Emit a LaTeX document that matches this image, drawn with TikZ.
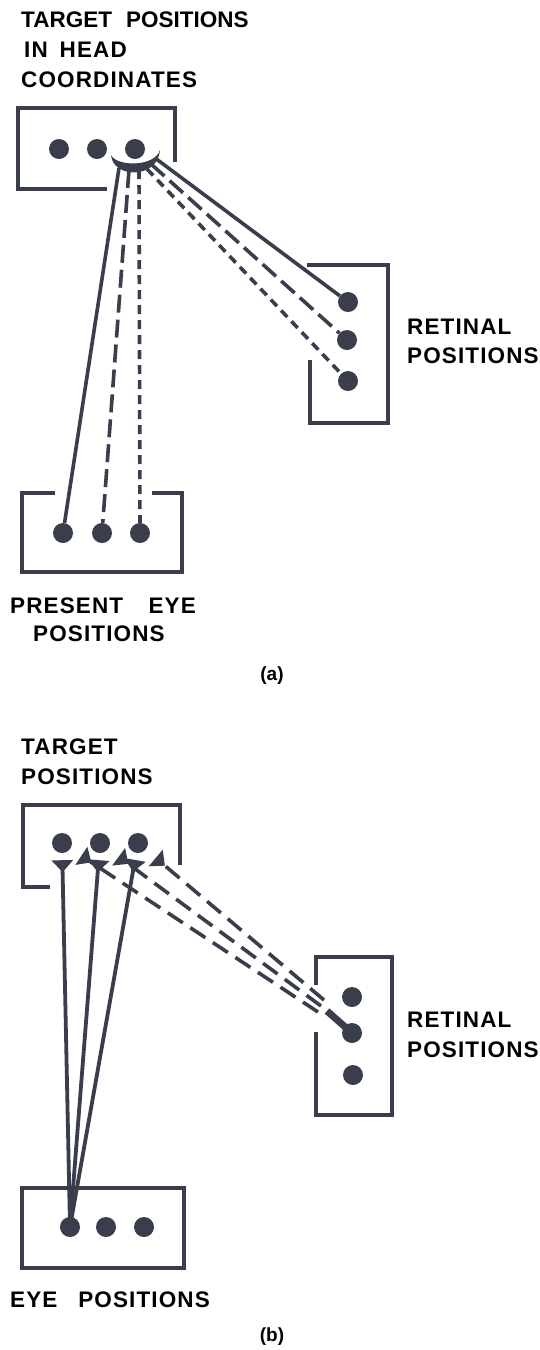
\documentclass[tikz,border=0pt]{standalone}
\usepackage{fontspec}
\setmainfont{Liberation Sans}
\newfontfamily\lblfont{Liberation Sans}[LetterSpace=5]
\newfontfamily\lblplain{Liberation Sans}
\usetikzlibrary{arrows.meta,calc}
\definecolor{ink}{RGB}{58,62,76}
\begin{document}
\begin{tikzpicture}[x=1pt,y=-1pt,
  dot/.style={circle,fill=ink,draw=none,inner sep=0pt,minimum size=20pt},
  frame/.style={draw=ink,line width=3.6pt},
  lbl/.style={font=\lblfont\bfseries\fontsize{22.5}{30}\selectfont,inner sep=0pt,anchor=base west,text=black},
  captionlbl/.style={font=\bfseries\fontsize{19}{22}\selectfont,inner sep=0pt,text=black},
  conn/.style={draw=ink,line width=3.6pt},
  longdash/.style={dash pattern=on 18pt off 7pt},
  shortdash/.style={dash pattern=on 9pt off 6pt},
  bdash/.style={dash pattern=on 18pt off 9pt},
  syn/.style={-{Triangle[reversed,width=21pt,length=12pt]}},
]
\useasboundingbox (0,0) rectangle (540,1350);

% ---------------- panel (a) ----------------
\node[lbl,font=\lblplain\bfseries\fontsize{22.5}{30}\selectfont] (la1) at (21,27) {TARGET\hspace{0.35em} POSITIONS};
\node[lbl] (la2) at (24,57) {IN\hspace{0.2em} HEAD};
\node[lbl] (la3) at (21,87) {COORDINATES};
\node[lbl] (lr1) at (407,334) {RETINAL};
\node[lbl] (lr2) at (407,363) {POSITIONS};
\node[lbl] (le1) at (10,613) {PRESENT\hspace{0.8em} EYE};
\node[lbl] (le2) at (33,641) {POSITIONS};
\node[captionlbl] (capa) at (272,676) {(a)};

\draw[frame] (107,189) -- (18,189) -- (18,108) -- (175,108) -- (175,162);
\draw[frame] (310,360) -- (310,423) -- (388,423) -- (388,265) -- (307,265);
\draw[frame] (55,493) -- (22,493) -- (22,572) -- (182,572) -- (182,493) -- (152,493);

\node[dot] (a1) at (59,149) {};
\node[dot] (a2) at (97,149) {};
\node[dot] (a3) at (135,149) {};
\node[dot] (r1) at (348,302) {};
\node[dot] (r2) at (347,340) {};
\node[dot] (r3) at (348,381) {};
\node[dot] (e1) at (63,533) {};
\node[dot] (e2) at (102,533) {};
\node[dot] (e3) at (140,533) {};

% start points on the crescent
\coordinate (s1) at (119,168);
\coordinate (s2) at (129,170);
\coordinate (s3) at (139,170);
\coordinate (s4) at (155,158);
\coordinate (s5) at (151,164);
\coordinate (s6) at (147,169);

\draw[conn] (s1) -- (e1);
\draw[conn,longdash] (s2) -- (e2);
\draw[conn,shortdash] (s3) -- (e3);
\draw[conn] (s4) -- (r1);
\draw[conn,longdash] (s5) -- (r2);
\draw[conn,shortdash] (s6) -- (r3);
% crescent under the third target dot
\fill[ink] (160,150) .. controls (158,179) and (113,179) .. (111,155)
          .. controls (117,167) and (155,167) .. (160,150) -- cycle;

% ---------------- panel (b) ----------------
\node[lbl] (lb1) at (21,754) {TARGET};
\node[lbl] (lb2) at (21,784) {POSITIONS};
\node[lbl] (lq1) at (407,1027) {RETINAL};
\node[lbl] (lq2) at (407,1057) {POSITIONS};
\node[lbl] (lf1) at (10,1307) {EYE\hspace{0.6em} POSITIONS};
\node[captionlbl] (capb) at (272,1337) {(b)};

\draw[frame] (50,887) -- (23,887) -- (23,805) -- (180,805) -- (180,865);
\draw[frame] (316,985) -- (316,957) -- (392,957) -- (392,1115) -- (316,1115) -- (316,1032);
\draw[frame] (22,1188) rectangle (184,1268);

\node[dot] (t1) at (62,843) {};
\node[dot] (t2) at (100,843) {};
\node[dot] (t3) at (138,843) {};
\node[dot] (q1) at (352,997) {};
\node[dot] (q2) at (352,1033) {};
\node[dot] (q3) at (353,1075) {};
\node[dot] (f1) at (70,1227) {};
\node[dot] (f2) at (106,1227) {};
\node[dot] (f3) at (144,1227) {};
\coordinate (hub) at (327,1011);
\coordinate (h1) at (318,1012);
\coordinate (h2) at (321,1006);
\coordinate (h3) at (324,1000);

\draw[conn,line width=7pt] (q2.center) -- (hub);
\draw[conn,bdash,syn,shorten >=13pt] (h1) -- (t1);
\draw[conn,bdash,syn,shorten >=13pt] (h2) -- (t2);
\draw[conn,bdash,syn,shorten >=13pt] (h3) -- (t3);
\draw[conn,line width=3.8pt,syn,shorten >=7pt] (f1.center) -- (t1);
\draw[conn,line width=3.8pt,syn,shorten >=7pt] (f1.center) -- (t2);
\draw[conn,line width=3.8pt,syn,shorten >=7pt] (f1.center) -- (t3);
\end{tikzpicture}
\end{document}
